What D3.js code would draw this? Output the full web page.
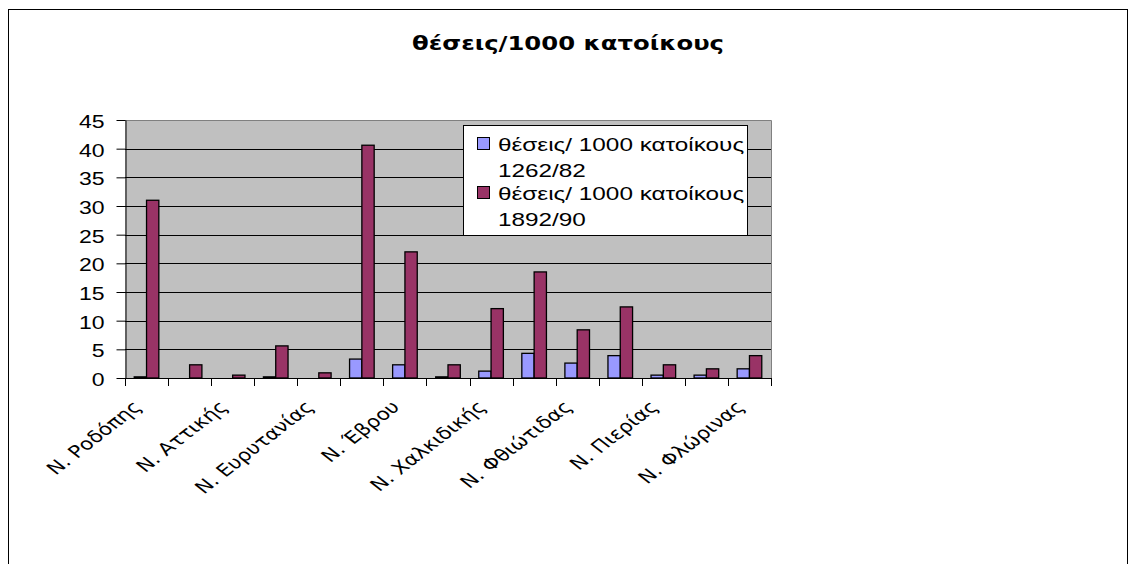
<!DOCTYPE html>
<html>
<head>
<meta charset="utf-8">
<script src="https://cdn.jsdelivr.net/npm/d3@7/dist/d3.min.js"></script>
<style>
  body { margin: 0; background: #fff; }
  text { fill: #000; }
</style>
</head>
<body>
<script>
'use strict';

// data
var categories = ["Ν. Ροδόπης", "", "Ν. Αττικής", "", "Ν. Ευρυτανίας", "", "Ν. Έβρου", "",
                  "Ν. Χαλκιδικής", "", "Ν. Φθιώτιδας", "", "Ν. Πιερίας", "", "Ν. Φλώρινας"];
var values1262 = [0.2, 0, 0, 0.2, 0, 3.3, 2.3, 0.2, 1.2, 4.3, 2.6, 3.9, 0.5, 0.5, 1.6];
var values1892 = [31, 2.3, 0.5, 5.6, 0.9, 40.6, 22, 2.3, 12.1, 18.5, 8.4, 12.4, 2.3, 1.6, 3.9];
var seriesNames = [["θέσεις/ 1000 κατοίκους", "1262/82"], ["θέσεις/ 1000 κατοίκους", "1892/90"]];
var seriesColors = ["#9999ff", "#993366"];
var yTicks = [0, 5, 10, 15, 20, 25, 30, 35, 40, 45];
var title = "θέσεις/1000 κατοίκους";

var width = 1130,
    height = 564,
    stretch = 1.28,   // the picture is a bit wider than tall
    plot = {left: 125, right: 771, top: 120, bottom: 378};

var svg = d3.select("body").append("svg")
  .attr("width", width)
  .attr("height", height);

// chart border
svg.append("rect")
  .attr("x", 8.5).attr("y", 9.5)
  .attr("width", 1119).attr("height", 620)
  .attr("fill", "none")
  .attr("stroke", "#000");

var x = d3.scaleBand()
  .domain(d3.range(categories.length))
  .range([plot.left, plot.right])
  .paddingInner(3 / 7)
  .paddingOuter(1.5 / 7);

var xs = d3.scaleBand()
  .domain([0, 1])
  .range([0, x.bandwidth()]);

var y = d3.scaleLinear()
  .domain([0, 45])
  .range([plot.bottom, plot.top]);

// plot area
svg.append("rect")
  .attr("x", plot.left).attr("y", plot.top)
  .attr("width", plot.right - plot.left)
  .attr("height", plot.bottom - plot.top)
  .attr("fill", "#c0c0c0");

svg.append("path")
  .attr("d", "M" + plot.left + "," + (plot.top + 0.5) + "H" + (plot.right + 0.5) + "V" + plot.bottom)
  .attr("fill", "none")
  .attr("stroke", "#808080");

// gridlines
svg.selectAll("line.grid")
  .data(yTicks.filter(function(d) { return d > 0 && d < 45; }))
  .enter().append("line")
  .attr("class", "grid")
  .attr("x1", plot.left).attr("x2", plot.right)
  .attr("y1", function(d) { return Math.round(y(d)) + 0.5; })
  .attr("y2", function(d) { return Math.round(y(d)) + 0.5; })
  .attr("stroke", "#000");

// bars
var series = [values1262, values1892];
series.forEach(function(vals, s) {
  svg.selectAll("rect.bar" + s)
    .data(vals)
    .enter().append("rect")
    .attr("class", "bar" + s)
    .attr("x", function(d, i) { return x(i) + xs(s); })
    .attr("y", function(d) { return y(d); })
    .attr("width", xs.bandwidth())
    .attr("height", function(d) { return plot.bottom - y(d); })
    .attr("fill", seriesColors[s])
    .attr("stroke", "#000")
    .attr("stroke-width", 1.3);
});

// y axis
var yAxis = svg.append("g")
  .attr("transform", "translate(" + (plot.left + 0.5) + ",0)")
  .call(d3.axisLeft(y).tickValues(yTicks).tickSize(9).tickSizeOuter(0).tickPadding(12));
yAxis.select(".domain").attr("stroke", "#000");
yAxis.selectAll(".tick line").attr("stroke", "#000");
yAxis.selectAll(".tick text")
  .attr("font-family", "'Liberation Sans', Arial, sans-serif")
  .attr("font-size", 18)
  .attr("x", null).attr("dy", null)
  .attr("dominant-baseline", "central")
  .attr("transform", "translate(-21,1) scale(" + stretch + ",1)");

// x axis
svg.append("line")
  .attr("x1", plot.left).attr("x2", plot.right + 1)
  .attr("y1", plot.bottom + 0.5).attr("y2", plot.bottom + 0.5)
  .attr("stroke", "#000");

svg.selectAll("line.xtick")
  .data(d3.range(categories.length + 1))
  .enter().append("line")
  .attr("class", "xtick")
  .attr("x1", function(i) { return Math.round(plot.left + i * x.step()) + 0.5; })
  .attr("x2", function(i) { return Math.round(plot.left + i * x.step()) + 0.5; })
  .attr("y1", plot.bottom).attr("y2", plot.bottom + 8)
  .attr("stroke", "#000");

svg.selectAll("text.cat")
  .data(categories)
  .enter().append("text")
  .attr("class", "cat")
  .attr("font-family", "'DejaVu Sans', Tahoma, sans-serif")
  .attr("font-size", 17)
  .attr("text-anchor", "end")
  .attr("transform", function(d, i) {
    return "translate(" + (x(i) + x.bandwidth() / 2 - 4) + "," + (plot.bottom + 30) + ") scale(" + stretch + ",1) rotate(-45)";
  })
  .text(function(d) { return d; });

// title
svg.append("text")
  .attr("font-family", "'DejaVu Sans', Tahoma, sans-serif")
  .attr("font-weight", "bold")
  .attr("font-size", 19)
  .attr("text-anchor", "middle")
  .attr("transform", "translate(568,50) scale(" + stretch + ",1)")
  .text(title);

// legend
var legend = svg.append("g").attr("transform", "translate(463,125)");
legend.append("rect")
  .attr("x", 0.5).attr("y", 0.5)
  .attr("width", 284).attr("height", 110)
  .attr("fill", "#fff")
  .attr("stroke", "#000");

var item = legend.selectAll("g.item")
  .data(seriesNames)
  .enter().append("g")
  .attr("class", "item")
  .attr("transform", function(d, i) { return "translate(0," + (i * 49) + ")"; });

item.append("rect")
  .attr("x", 14.5).attr("y", 12.5)
  .attr("width", 12).attr("height", 12)
  .attr("fill", function(d, i) { return seriesColors[i]; })
  .attr("stroke", "#000");

item.selectAll("text")
  .data(function(d) { return d; })
  .enter().append("text")
  .attr("font-family", "'Liberation Sans', Arial, sans-serif")
  .attr("font-size", 19)
  .attr("transform", function(d, j) { return "translate(35," + (26 + j * 26) + ") scale(" + stretch + ",1)"; })
  .text(function(d) { return d; });
</script>
</body>
</html>
